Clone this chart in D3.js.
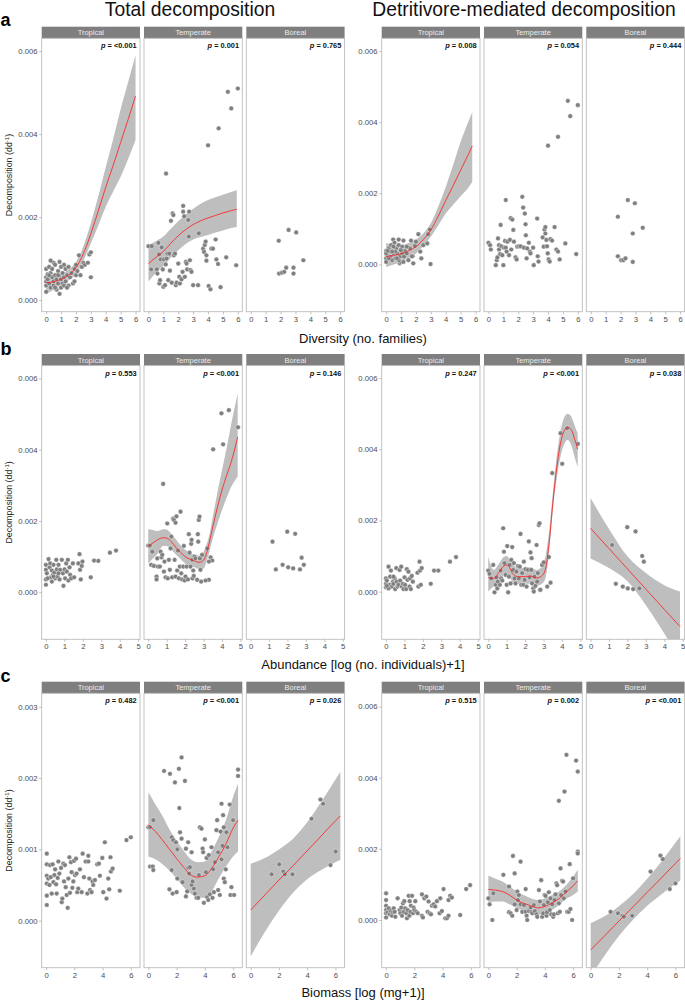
<!DOCTYPE html>
<html><head><meta charset="utf-8">
<script src="https://cdn.jsdelivr.net/npm/d3@7"></script>
<style>body{margin:0;background:#fff}svg{display:block}</style>
</head><body><div id="chart"></div>
<script>
// decomposition values below are in 10^-3 dd-1
const regions=["Tropical","Temperate","Boreal"];
const xTitles=["Diversity (no. families)","Abundance [log (no. individuals)+1]","Biomass [log (mg+1)]"];
const pTotal=[["<0.001","0.001","0.765"],["0.553","<0.001","0.146"],["0.482","<0.001","0.026"]];
const pDet=[["0.008","0.054","0.444"],["0.247","<0.001","0.038"],["0.515","0.002","<0.001"]];
const xTickVals=[[0,1,2,3,4,5,6],[0,1,2,3,4,5],[0,2,4,6]];
const yTicksTotal=[[0,2,4,6],[0,2,4,6],[0,1,2,3]];
const yTicksDet=[[0,2,4,6],[0,2,4,6],[0,2,4,6]];

// ── a : diversity ─────────────────────────────
const totDivTrop=[[0,0.75],[0,0.55],[0,0.35],[0,0.2],[0,0.45],[0.1,0.62],[0.1,0.5],[0.2,0.8],[0.2,0.4],[0.3,0.65],[0.3,0.3],[0.4,0.55],[0.4,0.75],[0.5,0.9],[0.5,0.45],[0.5,0.35],[0.6,0.85],[0.6,0.6],[0.7,0.5],[0.7,0.25],[0.8,0.7],[0.8,0.4],[0.9,0.92],[0.9,0.58],[0.9,0.15],[1,0.8],[1,0.5],[1,0.3],[1.1,0.65],[1.1,0.4],[1.2,0.85],[1.2,0.55],[1.2,0.35],[1.3,0.75],[1.3,0.45],[1.4,0.6],[1.5,0.8],[1.6,0.55],[1.7,0.65],[1.8,0.4],[1.9,0.75],[2,0.85],[2,0.6],[2.1,0.7],[2.2,1.08],[2.3,0.6],[2.4,0.8],[2.5,0.9],[2.6,0.85],[2.8,0.9],[2.9,1.1],[3,1.15],[3,0.55],[0.3,0.95],[0.6,0.3],[1.5,0.35],[0.2,0.6],[0.8,0.6],[1.4,0.3],[1.9,0.45]];
const totDivTemp=[[0,1.3],[0.22,1.3],[0.18,0.74],[0.56,0.74],[0.6,0.64],[0.67,1.38],[0.71,1.1],[0.73,0.4],[0.78,0.48],[0.82,0.98],[0.89,1.27],[0.96,0.74],[1,0.32],[1.04,0.98],[1.11,0.36],[1.16,0.86],[1.18,3.05],[1.22,1],[1.27,1.12],[1.33,0.48],[1.4,1.12],[1.44,0.71],[1.51,1.91],[1.56,0.42],[1.62,2.09],[1.67,2.05],[1.71,1.08],[1.78,1.12],[1.84,0.36],[1.89,0.42],[2,0.88],[2.07,0.56],[2.11,0.4],[2.22,0.5],[2.29,0.68],[2.33,2.27],[2.33,2.13],[2.4,2.02],[2.44,0.56],[2.51,0.92],[2.56,0.88],[2.6,0.74],[2.67,1.93],[2.71,1.53],[2.73,2.13],[2.78,0.96],[2.82,0.72],[2.89,0.68],[3,0.36],[3.33,0.36],[3.38,1.61],[3.67,1.24],[3.73,1.16],[3.78,1.33],[3.84,1.41],[3.89,1.08],[3.89,0.95],[4,3.73],[4.04,0.34],[4.16,0.26],[4.22,1.24],[4.33,1.24],[4.51,1.46],[4.56,0.98],[4.67,0.87],[4.84,0.31],[5.22,1.03],[5.33,5.02],[5.56,4.62],[4.71,4.14],[5.89,0.84],[6,5.1]];
const totDivBor=[[1.88,1.43],[2.54,1.69],[3.05,1.63],[3.53,0.96],[1.9,0.64],[2.1,0.66],[2.25,0.68],[2.38,0.78],[2.87,0.78],[2.87,0.64]];
const detDivTrop=[[0,0.38],[0,0.17],[0,0.07],[0.07,0.26],[0.18,0.45],[0.29,0.22],[0.33,0.54],[0.4,0.12],[0.47,0.7],[0.49,0.31],[0.56,0.61],[0.62,0.17],[0.67,0.45],[0.73,0.31],[0.84,0.7],[0.84,0.54],[0.91,0.03],[0.93,0.22],[0.98,0.07],[1.07,0.31],[1.16,0.67],[1.2,0.22],[1.27,0.38],[1.38,0.31],[1.49,0.12],[1.6,0.45],[1.67,0.67],[1.78,0.23],[1.82,0.03],[1.93,0.52],[2,0.64],[2.16,0.85],[2.29,0.36],[2.36,0.17],[2.49,0.54],[2.76,0.59],[2.93,0.98],[2.98,0.01],[2.82,0.85],[0.18,0.17],[0.29,0.36],[0.49,0.5],[0.6,0.36],[0.84,0.12],[1.07,0.5],[1.38,0.5],[1.73,0.23],[1.16,0.07],[0.4,0.36],[0,0.31],[0.1,0.38],[0.73,0.17],[0.98,0.4]];
const detDivTemp=[[0,0.61],[0.11,0.54],[0.16,0.42],[0.49,-0.02],[0.56,0.12],[0.6,0.2],[0.64,0.73],[0.71,0.54],[0.71,0.42],[0.78,0.29],[0.82,1.11],[0.87,0.51],[0.93,0.26],[1,-0.02],[1.04,0.47],[1.11,0.66],[1.16,1.81],[1.16,0.47],[1.22,0.36],[1.27,0.64],[1.38,0.26],[1.44,0.69],[1.49,1.3],[1.53,0.42],[1.6,1.26],[1.67,0.97],[1.71,0.64],[1.82,0.2],[1.89,0.14],[1.93,0.5],[2.04,0.51],[2.16,0.51],[2.27,1.9],[2.33,1.6],[2.38,0.47],[2.44,1.43],[2.49,1.13],[2.51,0.82],[2.56,0.17],[2.6,0.45],[2.71,0.61],[2.78,0.36],[2.82,0.31],[3,0.47],[3.04,-0.02],[3.27,1.29],[3.31,0.23],[3.36,0.08],[3.64,0.76],[3.71,0.5],[3.76,0.98],[3.82,1.05],[3.82,0.87],[3.89,0.69],[3.93,0.51],[3.98,0.31],[4.04,0.14],[4.11,0.08],[4.16,0.71],[4.27,0.67],[4,3.34],[4.67,3.59],[4.44,1.05],[4.56,0.42],[4.67,0.36],[4.78,0.14],[5.16,0.59],[5.33,4.6],[5.49,4.17],[6,4.48],[5.89,0.29]];
const detDivBor=[[1.82,1.34],[2.49,1.81],[2.96,1.72],[3.49,1.03],[2.82,0.87],[1.82,0.23],[2.04,0.12],[2.18,0.12],[2.33,0.17],[2.82,0.07]];

// ── b : abundance ─────────────────────────────
const totAbuTrop=[[0,0.77],[0,0.63],[0,0.36],[0,0.21],[0.05,0.53],[0.14,0.93],[0.2,0.7],[0.23,0.81],[0.27,0.42],[0.32,0.3],[0.32,0.61],[0.38,0.49],[0.41,0.77],[0.45,0.55],[0.5,0.39],[0.56,0.91],[0.59,0.64],[0.63,0.44],[0.68,0.77],[0.74,0.36],[0.77,0.63],[0.86,0.91],[0.92,0.53],[0.95,0.18],[1.01,0.64],[1.04,0.39],[1.1,0.81],[1.13,0.58],[1.19,0.91],[1.22,0.33],[1.28,0.7],[1.31,0.49],[1.37,0.39],[1.46,0.81],[1.53,0.42],[1.76,0.81],[1.82,1.07],[1.85,0.63],[1.89,0.36],[1.94,0.74],[1.98,0.86],[2.43,0.42],[2.61,0.89],[2.84,0.88],[3.47,1.11],[3.8,1.17],[0.09,0.39],[0.41,0.44],[0.68,0.53]];
const totAbuTemp=[[0,1.31],[0.09,1.31],[0.22,1.14],[0.16,0.77],[0.31,0.74],[0.45,0.44],[0.45,0.36],[0.49,0.95],[0.52,0.72],[0.63,0.72],[0.67,1.14],[0.72,0.98],[0.76,1.05],[0.81,3.04],[0.85,0.58],[0.88,0.86],[0.94,0.42],[1.03,1.93],[1.06,0.39],[1.12,0.91],[1.17,0.63],[1.21,1.23],[1.25,1.56],[1.3,0.42],[1.35,2.07],[1.39,2.03],[1.43,0.91],[1.48,1.95],[1.48,0.44],[1.53,2.13],[1.57,0.61],[1.61,1.17],[1.66,0.39],[1.71,0.72],[1.75,2.26],[1.79,0.53],[1.84,0.36],[1.9,0.72],[1.93,1.3],[1.97,0.33],[2.02,0.44],[2.08,0.72],[2.15,0.36],[2.2,1.63],[2.24,1.11],[2.29,0.72],[2.33,1.36],[2.35,1.47],[2.38,0.91],[2.4,0.39],[2.44,0.61],[2.47,0.46],[2.51,1],[2.56,0.95],[2.65,0.35],[2.69,1.63],[2.71,1.42],[2.74,2.03],[2.78,2.12],[2.8,0.95],[2.83,0.63],[2.87,0.3],[2.92,1.05],[3.2,1.23],[3.29,0.35],[3.38,0.98],[3.47,0.89],[3.52,4.01],[3.97,5.02],[4.06,4.15],[4.37,5.11],[4.87,4.63],[3.11,0.33],[3.29,0.86]];
const totAbuBor=[[1.19,1.42],[1.37,0.64],[1.74,0.77],[1.99,1.7],[2.04,0.7],[2.31,0.67],[2.42,1.64],[2.68,0.64],[2.77,0.97],[2.89,0.77]];
const detAbuTrop=[[0,0.12],[0,0.22],[0,0.37],[0.05,0.31],[0.14,0.7],[0.2,0.19],[0.23,0.42],[0.27,0.59],[0.32,0.14],[0.38,0.28],[0.41,0.22],[0.47,0.37],[0.5,0.07],[0.56,0.66],[0.59,0.28],[0.63,0.14],[0.68,0.19],[0.74,0.61],[0.77,0.31],[0.83,0.7],[0.86,0.14],[0.92,0.22],[0.95,0.07],[1.01,0.4],[1.04,0.19],[1.1,0.07],[1.13,0.63],[1.17,0.33],[1.22,0.56],[1.28,0.14],[1.31,0.37],[1.35,0.07],[1.4,0.44],[1.46,0.28],[1.71,0.53],[1.76,0.14],[1.82,0.84],[1.85,0.59],[1.89,0.19],[1.94,0.66],[2.43,0.22],[2.61,0.59],[2.84,0.59],[3.47,0.84],[3.8,0.97],[0.14,0.09],[0.41,0.42],[0.05,0.16]];
const detAbuTemp=[[0,0.59],[0.07,0.5],[0.16,0.37],[0.27,0.75],[0.34,-0.02],[0.4,0.19],[0.45,0.4],[0.49,0.09],[0.52,0.28],[0.63,0.19],[0.67,0.59],[0.7,0.37],[0.76,0.31],[0.81,1.78],[0.85,1.12],[0.88,0.8],[0.94,0.47],[1,0.19],[1.03,1.28],[1.08,-0.02],[1.12,0.42],[1.16,0.75],[1.21,0.23],[1.25,0.89],[1.3,1.25],[1.35,0.61],[1.39,0.8],[1.43,0.37],[1.48,0.23],[1.53,0.56],[1.61,0.72],[1.66,0.37],[1.71,0.7],[1.75,1.62],[1.79,0.19],[1.84,0.52],[1.9,0.19],[1.93,0.84],[1.97,0.33],[2.02,0.63],[2.08,0.14],[2.15,0.61],[2.2,1.41],[2.24,0.4],[2.29,1.1],[2.33,0.61],[2.35,0.94],[2.38,0.23],[2.44,0.09],[2.47,0],[2.51,0.42],[2.56,0.16],[2.62,1.31],[2.65,0.28],[2.69,0.52],[2.74,1.87],[2.78,1.92],[2.8,0.05],[2.83,0.05],[2.92,0.75],[3.01,0.82],[3.2,0.14],[3.29,0.97],[3.38,0.25],[3.47,3.33],[3.92,4.45],[4.01,3.59],[4.28,4.59],[4.86,4.15]];
const detAbuBor=[[1.17,1.31],[1.37,0.22],[1.75,0.14],[1.99,1.81],[2.02,0.09],[2.31,0.07],[2.44,1.69],[2.65,0.09],[2.8,1],[2.89,0.84]];

// ── c : biomass ───────────────────────────────
const totBioTrop=[[0.05,0.94],[0.05,0.79],[0.05,0.63],[0.05,0.52],[0.05,0.35],[0.05,0.22],[0.16,0.59],[0.24,0.5],[0.28,0.78],[0.33,0.61],[0.4,0.38],[0.47,0.79],[0.52,0.54],[0.59,0.64],[0.64,0.72],[0.71,0.51],[0.75,0.38],[0.82,0.6],[0.87,0.83],[0.94,0.66],[1.06,0.74],[1.11,0.26],[1.15,0.31],[1.22,0.8],[1.27,0.55],[1.34,0.78],[1.39,0.47],[1.46,0.36],[1.53,0.18],[1.58,0.59],[1.65,0.89],[1.69,0.39],[1.76,0.82],[1.81,0.68],[1.86,0.46],[1.93,0.55],[1.98,0.84],[2.05,0.64],[2.12,0.87],[2.16,0.66],[2.21,0.4],[2.28,0.45],[2.4,0.72],[2.52,0.4],[2.59,0.94],[2.68,0.61],[2.8,0.83],[2.92,0.38],[2.99,0.91],[2.99,0.83],[3.06,0.59],[3.11,0.43],[3.22,0.4],[3.29,0.55],[3.34,0.5],[3.46,0.57],[3.62,0.79],[3.74,0.8],[3.81,0.63],[3.98,0.88],[4.05,0.4],[4.16,1.1],[4.28,0.31],[4.4,0.59],[4.47,0.44],[4.56,0.89],[4.59,0.69],[4.71,0.73],[5.22,0.42],[5.69,1.13],[6,1.17]];
const totBioTemp=[[0,1.31],[0.12,1.31],[0.35,1.41],[0.12,0.76],[0.31,0.76],[0.35,0.71],[1.11,2.1],[1.53,2.06],[1.49,0.44],[1.65,0.71],[1.72,0.38],[1.65,1.17],[1.76,1.13],[1.88,1.94],[1.95,1.1],[2,0.4],[2.05,1],[2.05,0.59],[2.16,2.13],[2.19,1.58],[2.24,1.24],[2.35,1.15],[2.35,2.29],[2.42,0.54],[2.59,1.96],[2.66,1.01],[2.66,0.34],[2.75,0.41],[2.82,0.74],[2.89,0.66],[2.94,0.75],[3.06,0.5],[3.13,0.55],[3.22,0.45],[3.29,0.38],[3.41,0.32],[3.53,0.32],[3.58,0.64],[3.65,1.31],[3.76,1.29],[3.84,1.01],[3.88,0.96],[3.93,0.25],[4,1.14],[4.07,0.68],[4.12,0.88],[4.16,0.33],[4.24,0.29],[4.28,0.92],[4.35,0.37],[4.47,1.03],[4.54,0.32],[4.59,0.72],[4.64,0.4],[4.71,0.82],[4.82,1.27],[4.87,1.41],[4.94,0.96],[4.94,0.43],[5.06,0.36],[5.11,1.25],[5.18,1.64],[5.18,0.86],[5.25,1.05],[5.29,1.48],[5.34,1.31],[5.34,0.59],[5.41,0.54],[5.48,0.72],[5.53,1.24],[5.6,1.03],[5.76,1.63],[5.81,0.36],[5.88,0.47],[6,1.41],[6.07,0.36],[6.35,2.12],[6.35,2.03],[3.06,0.96],[2.82,1.1]];
const totBioBor=[[1.48,0.65],[2.02,0.79],[2.31,0.69],[2.42,0.65],[2.96,0.65],[4.31,1.43],[4.94,1.7],[5.13,1.64],[5.65,0.78],[6.02,0.97]];
const detBioTrop=[[0,0.75],[0,0.56],[0,0.4],[0,0.28],[0,0.19],[0,0.07],[0.12,0.22],[0.19,0.33],[0.26,0.16],[0.35,0.25],[0.42,0.12],[0.49,0.22],[0.54,0.33],[0.61,0.23],[0.66,0.09],[0.82,0.61],[0.96,0.28],[1.01,0.19],[1.08,0.35],[1.13,0.12],[1.2,0.47],[1.25,0.23],[1.29,0.53],[1.36,0.33],[1.44,0.19],[1.48,0.05],[1.53,0.28],[1.6,0.68],[1.65,0.12],[1.67,0.53],[1.72,0.23],[1.76,0.4],[1.84,0.68],[1.91,0.19],[1.95,0.35],[2,0.28],[2.07,0.53],[2.14,0.23],[2.24,0.19],[2.54,0.72],[2.54,0.12],[2.61,0.07],[2.71,0.61],[2.85,0.66],[2.94,0.23],[3.01,0.52],[3.08,0.19],[3.18,0.16],[3.25,0.4],[3.36,0.44],[3.48,0.38],[3.6,0.53],[3.79,0.19],[3.84,0.61],[3.95,0.25],[4.07,0.87],[4.19,0.05],[4.31,0.05],[4.42,0.12],[4.42,0.56],[4.54,0.68],[4.66,0.63],[5.25,0.14],[5.67,0.87],[5.95,0.98]];
const detBioTemp=[[0,0.61],[0.09,0.44],[0.28,0],[0.35,0.75],[1.06,1.27],[1.46,0.94],[1.46,0.22],[1.58,0.19],[1.69,0.12],[1.74,1.8],[1.86,1.31],[1.86,0.44],[2,0.28],[2.05,0.8],[2.09,0.56],[2.16,0.7],[2.28,1.64],[2.28,0.44],[2.4,0.23],[2.52,0.42],[2.64,0.87],[2.64,0.23],[2.71,0.12],[2.75,0],[2.87,0.25],[2.99,0.35],[3.04,0.23],[3.11,0.19],[3.22,0.42],[3.29,0.25],[3.41,0.16],[3.46,0.09],[3.58,0.84],[3.65,0.52],[3.74,1.12],[3.81,0.09],[3.88,0.19],[3.93,0.42],[3.98,0.7],[4.05,0.68],[4.12,0.12],[4.16,0.22],[4.21,0.5],[4.28,0.78],[4.35,0.28],[4.4,0.61],[4.45,0.16],[4.52,0.44],[4.59,0.09],[4.64,0.16],[4.68,0.56],[4.75,0.72],[4.82,1.03],[4.87,0.98],[4.92,0.19],[4.99,3.35],[4.99,0.47],[5.06,0.23],[5.11,1.45],[5.15,0.7],[5.22,1.1],[5.29,1.08],[5.34,0.61],[5.39,3.61],[5.46,0.8],[5.53,4.64],[5.58,0.23],[5.69,0.23],[5.76,1.57],[5.81,0.31],[5.93,0],[6,1.17],[6.21,4.48],[6.33,4.17],[6.33,1.92],[6.33,1.87]];
const detBioBor=[[1.41,0.23],[1.93,0.19],[2.24,0.12],[2.35,0.09],[2.94,0.12],[4.24,1.36],[4.94,1.81],[5.11,1.71],[5.6,0.87],[6,1.03]];

// ── smooth fits: [x, fit, lower, upper] ───────
const totDivTropFit=[[0,0.42,0.14,0.68],[0.5,0.44,0.25,0.62],[1,0.5,0.36,0.64],[1.5,0.6,0.47,0.74],[2,0.78,0.62,0.92],[2.5,1.12,0.95,1.3],[3,1.6,1.37,1.85],[3.5,2.15,1.8,2.5],[4,2.72,2.25,3.2],[4.5,3.25,2.62,3.88],[5,3.8,2.97,4.6],[5.5,4.35,3.4,5.25],[6,4.92,3.86,5.9]];
const totDivTempFit=[[0,0.88,0.45,1.33],[0.5,1.03,0.66,1.42],[1,1.17,0.82,1.53],[1.5,1.37,1.02,1.72],[2,1.55,1.2,1.9],[2.5,1.7,1.35,2.07],[3,1.82,1.46,2.2],[3.5,1.91,1.52,2.32],[4,1.98,1.57,2.41],[4.5,2.04,1.63,2.48],[5,2.1,1.68,2.54],[5.5,2.15,1.73,2.6],[5.93,2.19,1.76,2.65]];
const detDivTropFit=[[0,0.22,-0.07,0.6],[0.5,0.25,0,0.55],[1,0.3,0.07,0.54],[1.5,0.38,0.18,0.6],[2,0.5,0.31,0.7],[2.5,0.7,0.52,0.88],[3,0.97,0.78,1.16],[3.5,1.36,1.1,1.63],[4,1.8,1.43,2.18],[4.5,2.22,1.68,2.8],[5,2.65,1.92,3.45],[5.5,3.08,2.15,4],[5.78,3.33,2.32,4.28]];
const totAbuTempFit=[[0,1.3,0.81,1.77],[0.25,1.38,0.95,1.75],[0.5,1.47,1.08,1.72],[0.8,1.53,1.3,1.77],[1,1.52,1.3,1.76],[1.25,1.42,1.2,1.64],[1.5,1.26,1.06,1.48],[1.75,1.12,0.93,1.32],[2,1,0.81,1.19],[2.25,0.93,0.75,1.11],[2.5,0.88,0.7,1.05],[2.75,0.84,0.65,1.03],[3,0.9,0.66,1.14],[3.15,1.08,0.85,1.33],[3.3,1.37,1.11,1.58],[3.5,1.84,1.51,2.12],[3.75,2.38,1.92,2.8],[4,2.87,2.31,3.43],[4.25,3.28,2.65,4.05],[4.5,3.66,2.96,4.72],[4.85,4.36,3.24,5.58]];
const detAbuTempFit=[[0,0.4,0,0.98],[0.3,0.37,0.16,0.61],[0.6,0.56,0.31,0.8],[0.8,0.7,0.45,0.95],[1,0.75,0.5,1],[1.15,0.68,0.42,0.92],[1.3,0.53,0.28,0.8],[1.6,0.42,0.22,0.66],[2,0.42,0.22,0.66],[2.3,0.44,0.23,0.68],[2.6,0.38,0.16,0.61],[2.9,0.44,0.22,0.7],[3.1,0.63,0.37,0.98],[3.3,1.36,1.12,1.69],[3.5,2.48,2.25,2.76],[3.7,3.42,3.14,3.75],[3.9,4.12,3.75,4.45],[4.1,4.5,4.12,4.87],[4.3,4.62,4.26,5],[4.5,4.55,4.12,4.92],[4.7,4.26,3.75,4.64],[4.85,4,3.5,4.45]];
const detAbuBorFit=[[0,1.78,0.93,2.63],[1,1.21,0.66,1.76],[2,0.64,0.29,0.99],[3,0.07,-0.38,0.52],[4,-0.5,-1.18,0.18],[4.85,-0.98,-1.96,0]];
const totBioTempFit=[[0,1.35,0.9,1.8],[0.5,1.25,0.86,1.63],[1,1.13,0.79,1.47],[1.5,1,0.7,1.28],[2,0.87,0.59,1.12],[2.5,0.75,0.47,0.98],[3,0.64,0.38,0.86],[3.5,0.61,0.33,0.82],[4,0.63,0.32,0.83],[4.5,0.74,0.42,0.98],[5,0.9,0.6,1.18],[5.5,1.08,0.76,1.42],[6,1.3,0.9,1.74],[6.35,1.41,0.97,1.92]];
const totBioBorFit=[[0,0.15,-0.5,0.8],[1,0.36,-0.16,0.88],[2,0.57,0.14,1],[3,0.77,0.39,1.15],[4,0.98,0.58,1.38],[5,1.19,0.71,1.67],[6,1.4,0.82,1.98],[6.35,1.47,0.85,2.09]];
const detBioTempFit=[[0,0.86,0.5,1.25],[0.5,0.84,0.52,1.16],[1,0.8,0.52,1.08],[1.5,0.7,0.44,0.95],[2,0.56,0.33,0.8],[2.5,0.47,0.27,0.7],[3,0.4,0.22,0.61],[3.5,0.34,0.14,0.56],[4,0.38,0.19,0.61],[4.5,0.48,0.28,0.7],[5,0.6,0.42,0.8],[5.5,0.78,0.59,0.98],[6,0.96,0.7,1.22],[6.33,1.1,0.8,1.41]];
const detBioBorFit=[[0,-0.84,-1.59,-0.09],[1,-0.44,-0.99,0.11],[2,-0.03,-0.45,0.39],[3,0.37,0.01,0.73],[4,0.78,0.4,1.16],[5,1.18,0.72,1.64],[6,1.59,1.01,2.17],[6.35,1.73,1.11,2.35]];

const ptsTotal=[[totDivTrop,totDivTemp,totDivBor],[totAbuTrop,totAbuTemp,totAbuBor],[totBioTrop,totBioTemp,totBioBor]];
const ptsDet=[[detDivTrop,detDivTemp,detDivBor],[detAbuTrop,detAbuTemp,detAbuBor],[detBioTrop,detBioTemp,detBioBor]];
const fitsTotal=[[totDivTropFit,totDivTempFit,null],[null,totAbuTempFit,null],[null,totBioTempFit,totBioBorFit]];
const fitsDet=[[detDivTropFit,null,null],[null,detAbuTempFit,detAbuBorFit],[null,detBioTempFit,detBioBorFit]];

// ── LAYOUT ────────────────────────────────────
const W=685,H=1001,PW=98.3,GAP=4,SH=11.6;
const stripTop=[26.7,354,681.7],panelBot=[311.7,639.3,967.7];
const xDomains=[[-0.3,6.3],[-0.23,5.1],[-0.31,6.65]];
const yDomTotal=[[-0.28,6.31],[-1.32,6.36],[-0.66,3.19]];
const yDomDet=[[-1.33,6.36],[-1.34,6.35],[-1.34,6.37]];
const FONT="'Liberation Sans',Arial,Helvetica,sans-serif";

const svg=d3.select("#chart").append("svg").attr("width",W).attr("height",H).style("background","#fff");
const defs=svg.append("defs");

const blocks=[
  {x0:41.7,pts:ptsTotal,fits:fitsTotal,p:pTotal,yDom:yDomTotal,yTk:yTicksTotal,title:"Total decomposition",tx:190},
  {x0:381.7,pts:ptsDet,fits:fitsDet,p:pDet,yDom:yDomDet,yTk:yTicksDet,title:"Detritivore-mediated decomposition",tx:524}
];

blocks.forEach((b,bi)=>{
  svg.append("text").attr("x",b.tx).attr("y",16).attr("text-anchor","middle")
    .attr("font-family",FONT).attr("font-size",19.3).attr("fill","#111").text(b.title);

  for(let r=0;r<3;r++){
    const top=stripTop[r]+SH,bot=panelBot[r];
    for(let c=0;c<3;c++){
      const left=b.x0+c*(PW+GAP);
      const x=d3.scaleLinear().domain(xDomains[r]).range([left,left+PW]);
      const y=d3.scaleLinear().domain(b.yDom[r]).range([bot,top]);
      const g=svg.append("g");

      // strip
      g.append("rect").attr("x",left).attr("y",stripTop[r]).attr("width",PW).attr("height",SH).attr("fill","#7f7f7f");
      g.append("text").attr("x",left+PW/2).attr("y",stripTop[r]+SH/2).attr("dy","0.36em").attr("text-anchor","middle")
        .attr("font-family",FONT).attr("font-size",7.5).attr("fill","#ebebeb").text(regions[c]);

      const cid="clip"+bi+r+c;
      defs.append("clipPath").attr("id",cid).append("rect").attr("x",left).attr("y",top).attr("width",PW).attr("height",bot-top);
      const pg=g.append("g").attr("clip-path",`url(#${cid})`);

      const fit=b.fits[r][c];
      if(fit){
        pg.append("path").datum(fit).attr("fill","#bebebe")
          .attr("d",d3.area().x(d=>x(d[0])).y0(d=>y(d[2])).y1(d=>y(d[3])).curve(d3.curveMonotoneX));
      }
      pg.selectAll("circle").data(b.pts[r][c]).join("circle")
        .attr("cx",d=>x(d[0])).attr("cy",d=>y(d[1])).attr("r",2.35)
        .attr("fill","#7f7f7f").attr("stroke","#ffffff").attr("stroke-width",0.4);
      if(fit){
        pg.append("path").datum(fit).attr("fill","none").attr("stroke","#ff1a1a").attr("stroke-width",0.8)
          .attr("d",d3.line().x(d=>x(d[0])).y(d=>y(d[1])).curve(d3.curveMonotoneX));
      }

      g.append("rect").attr("x",left).attr("y",top).attr("width",PW).attr("height",bot-top)
        .attr("fill","none").attr("stroke","#bdbdbd").attr("stroke-width",0.9);

      // p value
      const pt=g.append("text").attr("x",left+PW-3.3).attr("y",top+10).attr("text-anchor","end")
        .attr("font-family",FONT).attr("font-size",7.4).attr("font-weight","bold").attr("fill","#111");
      pt.append("tspan").attr("font-style","italic").text("p");
      pt.append("tspan").text(" = "+b.p[r][c]);

      // x axis
      const xa=g.append("g").attr("transform",`translate(0,${bot})`)
        .call(d3.axisBottom(x).tickValues(xTickVals[r]).tickFormat(d3.format("d")).tickSize(2.6).tickPadding(1.8));
      xa.select(".domain").remove();
      xa.selectAll("line").attr("stroke","#9a9a9a").attr("stroke-width",0.6);
      xa.selectAll("text").attr("font-family",FONT).attr("font-size",7.7).attr("fill","#4d4d4d");

      if(c===0){
        const ya=g.append("g").attr("transform",`translate(${left},0)`)
          .call(d3.axisLeft(y).tickValues(b.yTk[r]).tickFormat(t=>d3.format(".3f")(t/1000)).tickSize(2.6).tickPadding(1.5));
        ya.select(".domain").remove();
        ya.selectAll("line").attr("stroke","#9a9a9a").attr("stroke-width",0.6);
        ya.selectAll("text").attr("font-family",FONT).attr("font-size",7.7).attr("fill","#4d4d4d");
      }
    }

    if(bi===0){
      const cy=(stripTop[r]+SH+panelBot[r])/2;
      const yl=svg.append("text").attr("transform",`translate(12.3,${cy}) rotate(-90)`).attr("text-anchor","middle")
        .attr("font-family",FONT).attr("font-size",8.9).attr("fill","#222");
      yl.append("tspan").text("Decomposition (dd");
      yl.append("tspan").attr("font-size",6).attr("dy",-3.5).text("-1");
      yl.append("tspan").attr("dy",3.5).text(")");
    }
  }
});

// row letters and x titles
const rowLetters=["a","b","c"];
const letterY=[26,355,682];
const xTitleY=[342.5,669,996.5];
rowLetters.forEach((l,i)=>{
  svg.append("text").attr("x",0.5).attr("y",letterY[i]).attr("font-family",FONT).attr("font-size",18)
    .attr("font-weight","bold").attr("fill","#000").text(l);
  svg.append("text").attr("x",363).attr("y",xTitleY[i]).attr("text-anchor","middle").attr("font-family",FONT)
    .attr("font-size",13).attr("fill","#111").text(xTitles[i]);
});
</script>
</body></html>
